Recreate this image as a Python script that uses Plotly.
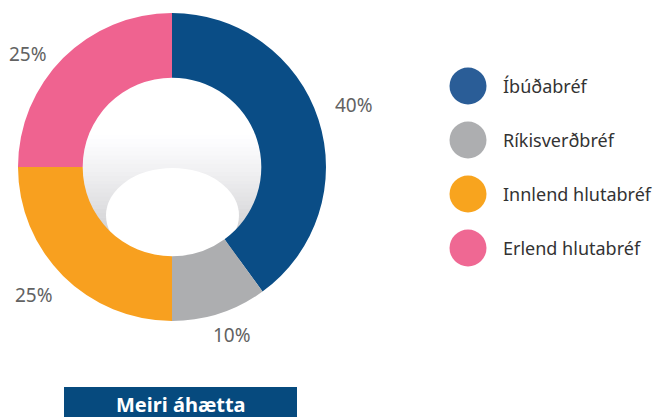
import math
import plotly.graph_objects as go

SW, SH = 664, 417      # browser window
OFF = 8                # page body margin
W, H = SW - OFF, SH - OFF

categories = ["Íbúðabréf", "Ríkisverðbréf", "Innlend hlutabréf", "Erlend hlutabréf"]
shares = [40, 10, 25, 25]
colors = ["#0a4d86", "#adaeb0", "#f8a01f", "#ef6390"]
legend_colors = ["#2a5d97", "#adaeb0", "#f8a41e", "#ef6893"]
footer_label = "Meiri áhætta"

# geometry (screen pixels)
cx, cy, R = 172, 167, 154
hole = 0.58
r_in = R * hole
label_r = 189
label_nudge = [(2, -4), (2, -12), (-4, -6), (-10, 21)]   # layout tweaks for percent labels

fig = go.Figure()

# hidden axes mapped to screen pixel coordinates
fig.update_layout(
    xaxis=dict(range=[OFF, SW], visible=False, domain=[0, 1], fixedrange=True),
    yaxis=dict(range=[SH, OFF], visible=False, domain=[0, 1], fixedrange=True),
)

fig.add_trace(go.Pie(
    values=shares,
    labels=categories,
    marker=dict(colors=colors, line=dict(width=0)),
    hole=hole,
    sort=False,
    direction="clockwise",
    rotation=0,
    textinfo="none",
    hoverinfo="label+percent",
    showlegend=False,
    domain=dict(x=[(cx - R - OFF) / W, (cx + R - OFF) / W],
                y=[(SH - cy - R) / H, (SH - cy + R) / H]),
))

shapes = []
# hole shading: white -> grey bands below the pie (visible only through the hole)
g_top, g_bot = cy - 32, cy + r_in + 2
n = 30
for i in range(n):
    t = (i + 1) / n
    c = int(255 - (255 - 196) * t ** 1.2)
    y0 = g_top + (g_bot - g_top) * i / n
    y1 = g_top + (g_bot - g_top) * (i + 1) / n + 0.6
    shapes.append(dict(type="rect", xref="x", yref="y", layer="below",
                       x0=cx - r_in - 2, x1=cx + r_in + 2, y0=y0, y1=y1,
                       fillcolor=f"rgb({c},{c},{min(c + 2, 255)})", line=dict(width=0)))
# white inner ellipse
shapes.append(dict(type="circle", xref="x", yref="y", layer="below",
                   x0=cx - 66, x1=cx + 67, y0=cy + 1, y1=cy + 96,
                   fillcolor="white", line=dict(width=0)))
# footer box
shapes.append(dict(type="rect", xref="x", yref="y", layer="above",
                   x0=64, x1=297, y0=387, y1=SH + 2,
                   fillcolor="#064a7e", line=dict(width=0)))

annotations = []
# percentage labels at slice mid-angles
cum = 0
total = sum(shares)
for v, (nx, ny) in zip(shares, label_nudge):
    mid = (cum + v / 2) / total * 2 * math.pi
    cum += v
    lx = cx + label_r * math.sin(mid) + nx
    ly = cy - label_r * math.cos(mid) + ny
    annotations.append(dict(x=lx, y=ly, xref="x", yref="y", text=f"{v}%",
                            showarrow=False, xanchor="center", yanchor="middle",
                            font=dict(family="Noto Sans", size=19, color="#626262")))
annotations.append(dict(x=(64 + 297) / 2, y=404, xref="x", yref="y", text=f"<b>{footer_label}</b>",
                        showarrow=False, xanchor="center", yanchor="middle",
                        font=dict(family="Noto Sans", size=20, color="white")))

# custom legend with circle markers
leg_y = [86 + 54 * i for i in range(len(categories))]
fig.add_trace(go.Scatter(
    x=[468] * len(categories), y=leg_y, mode="markers",
    marker=dict(size=37, color=legend_colors, line=dict(width=0)),
    hoverinfo="skip", showlegend=False,
))
for name, y in zip(categories, leg_y):
    annotations.append(dict(x=501, y=y, xref="x", yref="y", text=name, showarrow=False,
                            xanchor="left", yanchor="middle",
                            font=dict(family="Noto Sans", size=18, color="#333333")))

fig.update_layout(
    width=W, height=H,
    margin=dict(l=0, r=0, t=0, b=0),
    paper_bgcolor="white", plot_bgcolor="white",
    shapes=shapes, annotations=annotations,
    showlegend=False,
)

fig.write_html("out.html")
